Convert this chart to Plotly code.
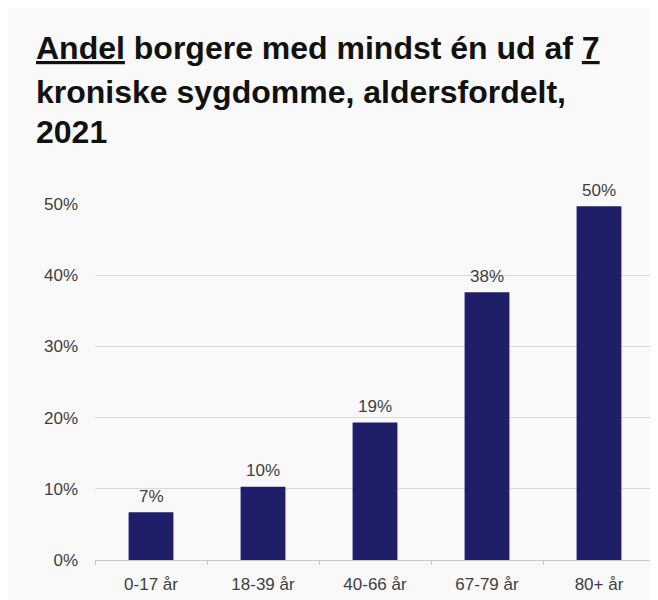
import plotly.graph_objects as go

categories = ["0-17 år", "18-39 år", "40-66 år", "67-79 år", "80+ år"]
values = [0.067, 0.103, 0.193, 0.376, 0.497]
labels = ["7%", "10%", "19%", "38%", "50%"]
y_ticks = [0, 0.1, 0.2, 0.3, 0.4, 0.5]
y_tick_labels = ["0%", "10%", "20%", "30%", "40%", "50%"]
title_lines = [
    "<u>Andel</u> borgere med mindst én ud af <u>7</u>",
    "kroniske sygdomme, aldersfordelt,",
    "2021",
]

BG = "#f9f9f9"
OFF = 8  # page body margin
W, H = 658, 600
L, R, T, B = 95 - OFF, 3 + OFF, 204 - OFF, 40 + OFF
ph = H - T - B
pw = W - L - R
SMALL = 17

fig = go.Figure()
fig.add_trace(go.Bar(
    x=categories, y=values,
    marker=dict(color="#1f1f69", line=dict(width=0)),
    width=0.4, hoverinfo="x+y",
))

for c, v, t in zip(categories, values, labels):
    fig.add_annotation(
        x=c, y=v, text=t, showarrow=False, xanchor="center", yanchor="middle",
        yshift=16, font=dict(family="Liberation Sans, Arial", size=SMALL, color="#404040"),
    )

title_y_px = [48, 92, 132]
for line, ypx in zip(title_lines, title_y_px):
    fig.add_annotation(
        text="<b>" + line + "</b>", xref="paper", yref="paper",
        x=(34 - OFF - L) / pw, y=(H - B - (ypx - OFF)) / ph,
        xanchor="left", yanchor="middle", showarrow=False,
        font=dict(family="Liberation Sans, Arial", size=32, color="#111111"),
    )

fig.update_layout(
    width=W, height=H,
    margin=dict(l=L, r=R, t=T, b=B),
    paper_bgcolor=BG, plot_bgcolor=BG,
    showlegend=False,
    font=dict(family="Liberation Sans, Arial", size=SMALL, color="#404040"),
)
fig.update_xaxes(
    showline=True, linecolor="#c8c8c8", linewidth=1,
    ticks="outside", tickson="boundaries", ticklen=4, tickcolor="#c8c8c8",
    showgrid=False, tickfont=dict(size=SMALL, color="#404040"),
    ticklabelstandoff=9,
)
fig.update_yaxes(
    range=[0, 0.5001], tickvals=y_ticks, ticktext=y_tick_labels,
    showgrid=True, gridcolor="#dadada", gridwidth=1, zeroline=False,
    showline=False, ticks="", ticklabelstandoff=16,
    tickfont=dict(size=SMALL, color="#404040"),
)

fig.write_html("out.html")
